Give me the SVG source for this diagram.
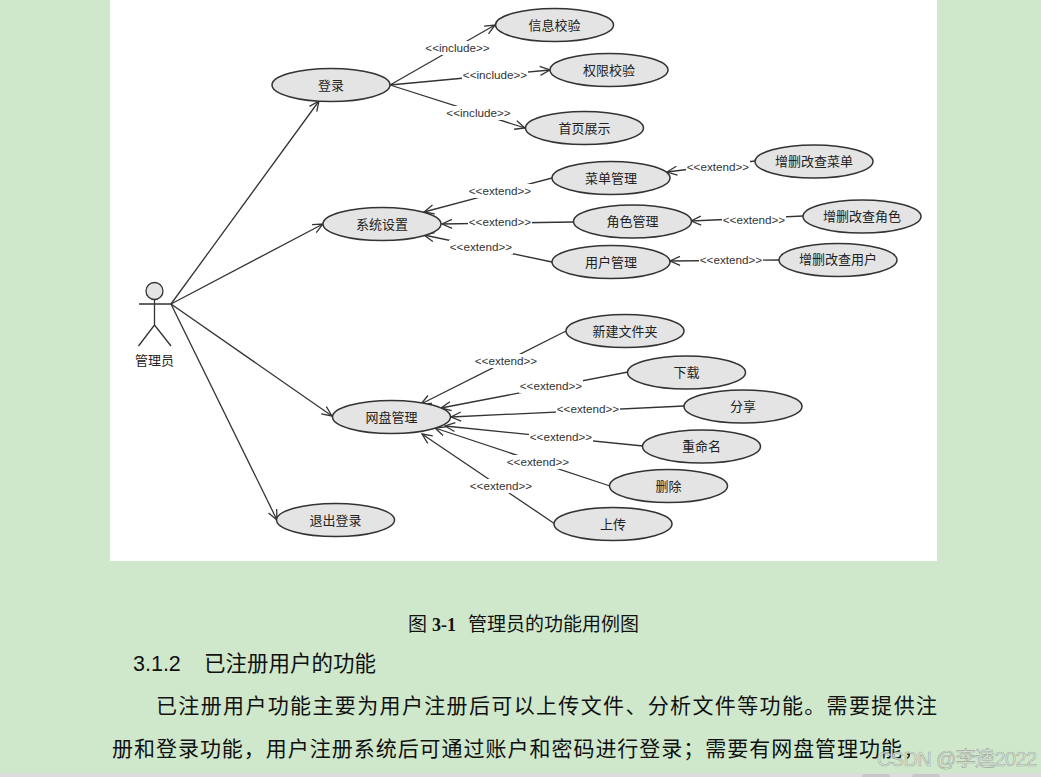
<svg xmlns="http://www.w3.org/2000/svg" width="1041" height="777" viewBox="0 0 1041 777">
<style>
.u ellipse{fill:#e4e4e4;stroke:#333;stroke-width:1.5}
.u text,.n{font-family:"Noto Sans CJK SC","Liberation Sans",sans-serif;font-size:13px;fill:#222;text-anchor:middle}
.u text{transform:translateY(-.5px)}
.c line{stroke:#333;stroke-width:1.3}
.c text{font-family:"Liberation Sans",sans-serif;font-size:11.700px;fill:#333;text-anchor:middle}
.bg{fill:#fff;stroke:none}
.a{fill:none;stroke:#333;stroke-width:1.3}
.s{font-family:"Liberation Serif","Noto Sans CJK SC",serif;fill:#111}
</style>
<defs>
<marker id="h" markerWidth="12" markerHeight="12" refX="11" refY="6" orient="auto" markerUnits="userSpaceOnUse"><path d="M1 1.500L11 6L1 10.500" fill="none" stroke="#333" stroke-width="1.300"/></marker>
</defs>
<rect width="1041" height="777" fill="#cfe8cc"/>
<rect x="110" y="0" width="827" height="561" fill="#fff"/>
<rect x="0" y="773" width="1041" height="4" fill="#dcdcdc"/>
<rect x="862" y="774" width="28" height="6" rx="3" fill="#c8c8c8"/>
<rect x="912" y="774" width="28" height="6" rx="3" fill="#c8c8c8"/>
<g id="connectors" class="c">
<g>
<line x1="171" y1="304" x2="319" y2="101" marker-end="url(#h)"/>
<line x1="171" y1="304" x2="323" y2="224" marker-end="url(#h)"/>
<line x1="171" y1="304" x2="332" y2="416" marker-end="url(#h)"/>
<line x1="171" y1="304" x2="277" y2="520" marker-end="url(#h)"/>
<line x1="390" y1="85" x2="495" y2="25" marker-end="url(#h)"/>
<line x1="390" y1="85" x2="550" y2="70" marker-end="url(#h)"/>
<line x1="390" y1="85" x2="525" y2="128" marker-end="url(#h)"/>
<line x1="552" y1="178" x2="424" y2="212" marker-end="url(#h)"/>
<line x1="573" y1="222" x2="442" y2="224" marker-end="url(#h)"/>
<line x1="552" y1="262" x2="424" y2="235" marker-end="url(#h)"/>
<line x1="755" y1="161" x2="667" y2="172" marker-end="url(#h)"/>
<line x1="803" y1="216" x2="691" y2="221" marker-end="url(#h)"/>
<line x1="779" y1="260" x2="670" y2="261" marker-end="url(#h)"/>
<line x1="566" y1="331" x2="421" y2="404" marker-end="url(#h)"/>
<line x1="628" y1="372" x2="441" y2="408" marker-end="url(#h)"/>
<line x1="684" y1="406" x2="451" y2="417" marker-end="url(#h)"/>
<line x1="643" y1="446" x2="445" y2="426" marker-end="url(#h)"/>
<line x1="610" y1="486" x2="435" y2="428" marker-end="url(#h)"/>
<line x1="555" y1="524" x2="422" y2="434" marker-end="url(#h)"/>
</g>
<g>
<rect class="bg" x="424" y="41" width="67" height="14"/><text x="457.500" y="52">&lt;&lt;include&gt;&gt;</text>
<rect class="bg" x="462" y="68" width="66" height="14"/><text x="495" y="79">&lt;&lt;include&gt;&gt;</text>
<rect class="bg" x="445" y="106" width="66" height="14"/><text x="478.500" y="117">&lt;&lt;include&gt;&gt;</text>
<rect class="bg" x="468" y="184" width="64" height="14"/><text x="500" y="195">&lt;&lt;extend&gt;&gt;</text>
<rect class="bg" x="468" y="215" width="64" height="14"/><text x="500" y="226">&lt;&lt;extend&gt;&gt;</text>
<rect class="bg" x="449" y="240" width="64" height="14"/><text x="481" y="251">&lt;&lt;extend&gt;&gt;</text>
<rect class="bg" x="686" y="160" width="64" height="14"/><text x="718" y="171">&lt;&lt;extend&gt;&gt;</text>
<rect class="bg" x="722" y="213" width="64" height="14"/><text x="754" y="224">&lt;&lt;extend&gt;&gt;</text>
<rect class="bg" x="699" y="253" width="64" height="14"/><text x="731" y="264">&lt;&lt;extend&gt;&gt;</text>
<rect class="bg" x="474" y="354" width="64" height="14"/><text x="506" y="365">&lt;&lt;extend&gt;&gt;</text>
<rect class="bg" x="519" y="379" width="64" height="14"/><text x="551" y="390">&lt;&lt;extend&gt;&gt;</text>
<rect class="bg" x="556" y="402" width="64" height="14"/><text x="588" y="413">&lt;&lt;extend&gt;&gt;</text>
<rect class="bg" x="529" y="430" width="64" height="14"/><text x="561" y="441">&lt;&lt;extend&gt;&gt;</text>
<rect class="bg" x="506" y="455" width="64" height="14"/><text x="538" y="466">&lt;&lt;extend&gt;&gt;</text>
<rect class="bg" x="469" y="479" width="64" height="14"/><text x="501" y="490">&lt;&lt;extend&gt;&gt;</text>
</g>
</g>
<g id="actor" class="a">
<circle cx="154.500" cy="291" r="8.500" fill="#e4e4e4"/>
<path d="M154.500 299.500V325M139 304H171M154.500 325L138.500 346M154.500 325L171 346"/>
<text class="n" x="154.500" y="365" stroke="none">管理员</text>
</g>
<g id="n1" class="u"><ellipse cx="331" cy="85" rx="59" ry="16.500"/><text x="331" y="90">登录</text></g>
<g id="n2" class="u"><ellipse cx="554.500" cy="25" rx="59" ry="16.500"/><text x="554.500" y="30">信息校验</text></g>
<g id="n3" class="u"><ellipse cx="609" cy="70" rx="59" ry="16.500"/><text x="609" y="75">权限校验</text></g>
<g id="n4" class="u"><ellipse cx="584.500" cy="128" rx="59" ry="16.500"/><text x="584.500" y="133">首页展示</text></g>
<g id="n5" class="u"><ellipse cx="382" cy="224" rx="59" ry="16.500"/><text x="382" y="229">系统设置</text></g>
<g id="n6" class="u"><ellipse cx="611" cy="178" rx="59" ry="16.500"/><text x="611" y="183">菜单管理</text></g>
<g id="n7" class="u"><ellipse cx="632.500" cy="221.500" rx="59" ry="16.500"/><text x="632.500" y="226.500">角色管理</text></g>
<g id="n8" class="u"><ellipse cx="611" cy="262" rx="59" ry="16.500"/><text x="611" y="267">用户管理</text></g>
<g id="n9" class="u"><ellipse cx="814" cy="161.500" rx="59" ry="16.500"/><text x="814" y="166">增删改查菜单</text></g>
<g id="n10" class="u"><ellipse cx="862" cy="216.500" rx="59" ry="16.500"/><text x="862" y="221">增删改查角色</text></g>
<g id="n11" class="u"><ellipse cx="838" cy="260" rx="59" ry="16.500"/><text x="838" y="264.500">增删改查用户</text></g>
<g id="n12" class="u"><ellipse cx="391.500" cy="417" rx="59" ry="16.500"/><text x="391.500" y="422">网盘管理</text></g>
<g id="n13" class="u"><ellipse cx="625" cy="331" rx="59" ry="16.500"/><text x="625" y="336">新建文件夹</text></g>
<g id="n14" class="u"><ellipse cx="686.500" cy="372.500" rx="59" ry="16.500"/><text x="686.500" y="377.500">下载</text></g>
<g id="n15" class="u"><ellipse cx="743" cy="406.500" rx="59" ry="16.500"/><text x="743" y="411.500">分享</text></g>
<g id="n16" class="u"><ellipse cx="701.500" cy="446.500" rx="59" ry="16.500"/><text x="701.500" y="451.500">重命名</text></g>
<g id="n17" class="u"><ellipse cx="668.500" cy="486" rx="59" ry="16.500"/><text x="668.500" y="491">删除</text></g>
<g id="n18" class="u"><ellipse cx="613" cy="524" rx="59" ry="16.500"/><text x="613" y="529">上传</text></g>
<g id="n19" class="u"><ellipse cx="335.500" cy="520" rx="59" ry="16.500"/><text x="335.500" y="525">退出登录</text></g>
<text class="s" y="631" font-size="19"><tspan x="408">图</tspan><tspan x="432" font-size="18" font-weight="bold">3-1</tspan><tspan x="468">管理员的功能用例图</tspan></text>
<text y="671" font-size="21.500" font-family="'Liberation Sans','Noto Sans CJK SC',sans-serif" fill="#111"><tspan x="133">3.1.2</tspan><tspan x="204">已注册用户的功能</tspan></text>
<text class="s" x="156" y="713" font-size="21" textLength="781">已注册用户功能主要为用户注册后可以上传文件、分析文件等功能。需要提供注</text>
<text class="s" x="112" y="756" font-size="21" textLength="812">册和登录功能，用户注册系统后可通过账户和密码进行登录；需要有网盘管理功能，</text>
<text x="877" y="766" font-size="20" textLength="160" font-family="'Liberation Sans','Noto Sans CJK SC',sans-serif" fill="#dfe9dd" fill-opacity="0.9" stroke="#777" stroke-opacity="0.6" stroke-width="0.6">CSDN @李逵2022</text>
</svg>
